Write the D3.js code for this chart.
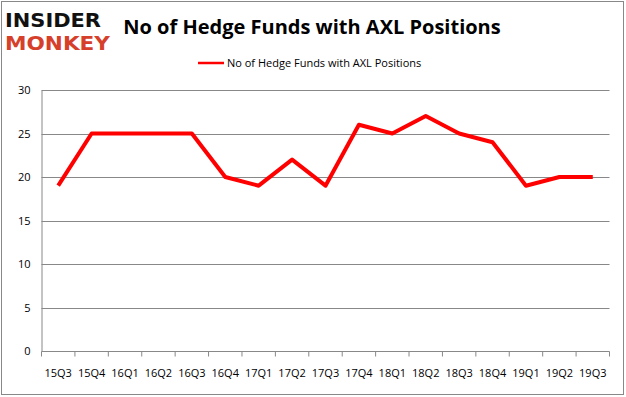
<!DOCTYPE html>
<html>
<head>
<meta charset="utf-8">
<script src="https://cdn.jsdelivr.net/npm/d3@7"></script>
<style>
  body { margin: 0; background: #fff; }
  text { font-family: "Open Sans", "Noto Sans", sans-serif; }
</style>
</head>
<body>
<div id="chart"></div>
<script>
const quarters = ["15Q3", "15Q4", "16Q1", "16Q2", "16Q3", "16Q4", "17Q1", "17Q2", "17Q3",
  "17Q4", "18Q1", "18Q2", "18Q3", "18Q4", "19Q1", "19Q2", "19Q3"];
const hedgeFunds = [19, 25, 25, 25, 25, 20, 19, 22, 19, 26, 25, 27, 25, 24, 19, 20, 20];
const yTicks = [0, 5, 10, 15, 20, 25, 30];
const title = "No of Hedge Funds with AXL Positions";
const seriesName = "No of Hedge Funds with AXL Positions";

const W = 626, H = 397;
const margin = {top: 90, right: 16.5, bottom: 46, left: 41.5};

const svg = d3.select("#chart")
  .append("svg")
    .attr("width", W)
    .attr("height", H);

// outer frame
svg.append("rect")
  .attr("x", 1.5).attr("y", 1.5)
  .attr("width", 622).attr("height", 393)
  .attr("fill", "#fff")
  .attr("stroke", "#888");

const x = d3.scaleBand()
  .domain(quarters)
  .range([margin.left, W - margin.right]);

const y = d3.scaleLinear()
  .domain([0, 30])
  .range([H - margin.bottom, margin.top]);

// gridlines
svg.append("g")
  .selectAll("line")
  .data(yTicks.filter(d => d > 0))
  .join("line")
    .attr("x1", margin.left)
    .attr("x2", W - margin.right)
    .attr("y1", d => Math.round(y(d)) + 0.5)
    .attr("y2", d => Math.round(y(d)) + 0.5)
    .attr("stroke", "#888");

// y axis
const yAxis = d3.axisLeft(y).tickValues(yTicks).tickSize(0).tickPadding(11);
svg.append("g")
  .attr("transform", `translate(${margin.left}, 0)`)
  .call(yAxis)
  .call(g => g.select(".domain").attr("stroke", "#888"))
  .call(g => g.selectAll("text").attr("font-size", 11).attr("fill", "#000")
    .style("font-family", "Open Sans, sans-serif"));

// x axis with boundary ticks
const xg = svg.append("g")
  .attr("transform", `translate(0, ${Math.round(y(0)) + 0.5})`);
xg.append("line")
  .attr("x1", margin.left).attr("x2", W - margin.right)
  .attr("stroke", "#888");
xg.selectAll("line.tick")
  .data(quarters.map(q => x(q)).concat([W - margin.right]))
  .join("line")
    .attr("class", "tick")
    .attr("x1", d => d).attr("x2", d => d)
    .attr("y1", 0).attr("y2", 5)
    .attr("stroke", "#888");
xg.selectAll("text")
  .data(quarters)
  .join("text")
    .attr("x", d => x(d) + x.bandwidth() / 2)
    .attr("y", 25)
    .attr("text-anchor", "middle")
    .attr("font-size", 11)
    .attr("fill", "#000")
    .text(d => d);

// series line
const line = d3.line()
  .x((d, i) => x(quarters[i]) + x.bandwidth() / 2)
  .y(d => y(d));

svg.append("path")
  .datum(hedgeFunds)
  .attr("fill", "none")
  .attr("stroke", "#ff0000")
  .attr("stroke-width", 4)
  .attr("stroke-linejoin", "round")
  .attr("d", line);

// title
svg.append("text")
  .text(title)
  .attr("x", 312)
  .attr("y", 34)
  .attr("text-anchor", "middle")
  .attr("font-size", 20)
  .attr("font-weight", "bold")
  .attr("fill", "#000");

// legend
svg.append("line")
  .attr("x1", 198).attr("x2", 224)
  .attr("y1", 63).attr("y2", 63)
  .attr("stroke", "#ff0000")
  .attr("stroke-width", 2.5);
svg.append("text")
  .text(seriesName)
  .attr("x", 227)
  .attr("y", 67)
  .attr("font-size", 11)
  .attr("fill", "#000");

// logo
svg.append("text")
  .text("INSIDER")
  .attr("x", 5).attr("y", 26.5)
  .attr("textLength", 96)
  .attr("lengthAdjust", "spacingAndGlyphs")
  .attr("font-size", 19.5)
  .attr("font-weight", "900")
  .style("font-family", "DejaVu Sans, sans-serif")
  .attr("fill", "#111");
svg.append("text")
  .text("MONKEY")
  .attr("x", 5).attr("y", 49.5)
  .attr("textLength", 105)
  .attr("lengthAdjust", "spacingAndGlyphs")
  .attr("font-size", 19.5)
  .attr("font-weight", "900")
  .style("font-family", "DejaVu Sans, sans-serif")
  .attr("fill", "#d6402b");
</script>
</body>
</html>
